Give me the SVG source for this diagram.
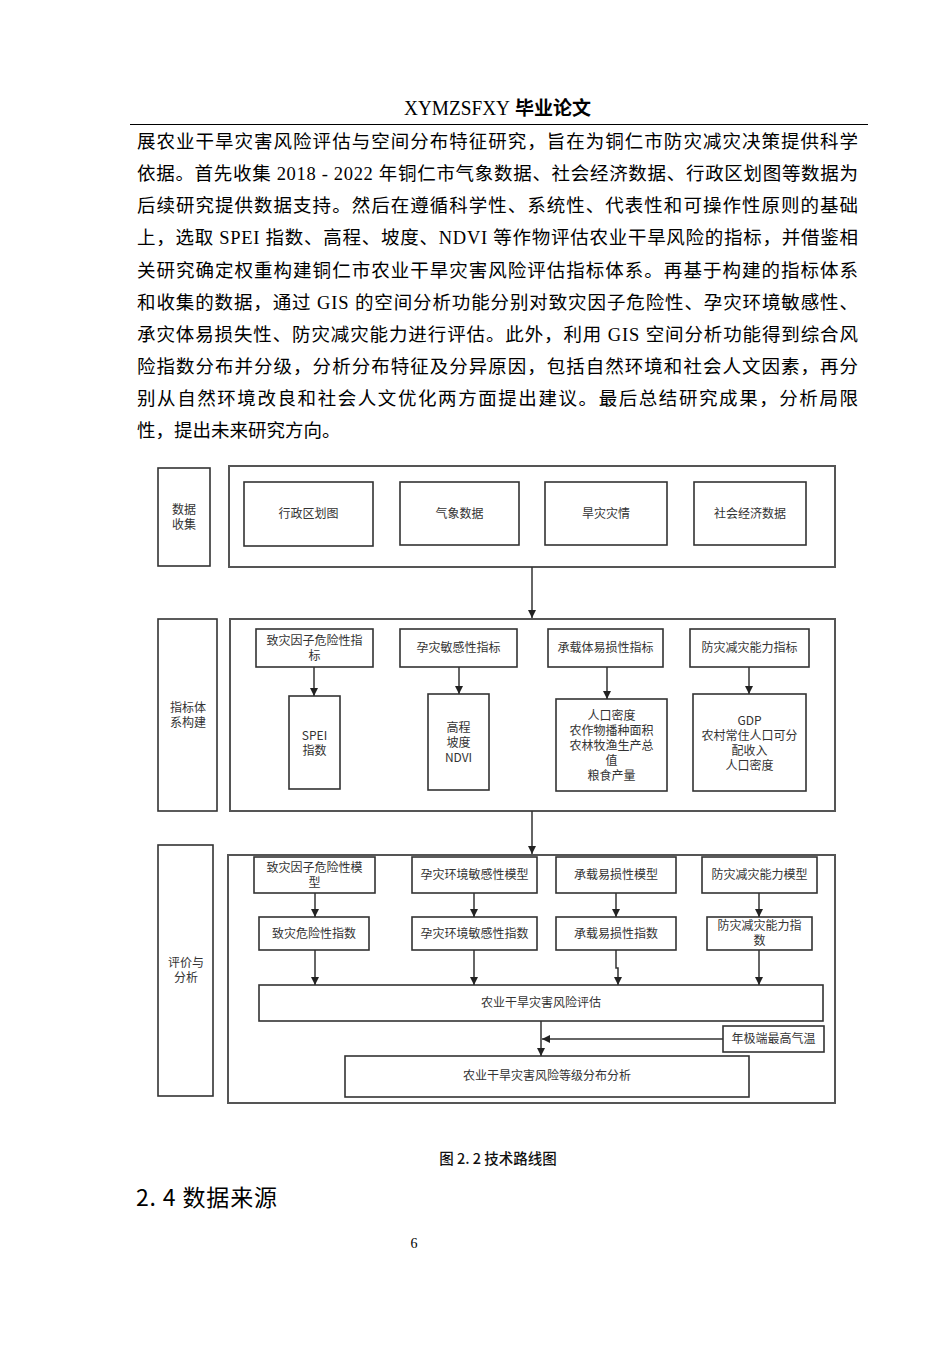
<svg xmlns="http://www.w3.org/2000/svg" width="950" height="1346" viewBox="0 0 950 1346">
<style>
.body{font-family:"Liberation Serif","Noto Sans CJK SC",serif;font-size:18.5px;fill:#000}
.t{font-family:"Noto Sans CJK SC","Liberation Sans",sans-serif;font-size:12px;fill:#333;text-anchor:middle}
.outer{fill:none;stroke:#555;stroke-width:2}
.box{fill:#fff;stroke:#333;stroke-width:1.6}
.conn{fill:none;stroke:#333;stroke-width:1.5;marker-end:url(#ah)}
</style>
<defs>
<marker id="ah" viewBox="0 0 10 10" refX="10" refY="5" markerWidth="9" markerHeight="8" markerUnits="userSpaceOnUse" orient="auto">
<path d="M0,0 L10,5 L0,10 Z" fill="#222"/>
</marker>
</defs>
<rect width="950" height="1346" fill="#fff"/>

<g id="header">
<text x="404" y="115" font-family="Liberation Serif,serif" font-size="21" textLength="106" lengthAdjust="spacingAndGlyphs">XYMZSFXY</text>
<text x="515" y="115" font-family="Noto Sans CJK SC,sans-serif" font-size="19" font-weight="bold">毕业论文</text>
<line x1="130" y1="124.5" x2="868" y2="124.5" stroke="#000" stroke-width="1"/>
</g>

<g id="paragraph" class="body">
<text x="137" y="148" textLength="721" lengthAdjust="spacing">展农业干旱灾害风险评估与空间分布特征研究，旨在为铜仁市防灾减灾决策提供科学</text>
<text x="137" y="180" textLength="721" lengthAdjust="spacing">依据。首先收集 2018 - 2022 年铜仁市气象数据、社会经济数据、行政区划图等数据为</text>
<text x="137" y="212" textLength="721" lengthAdjust="spacing">后续研究提供数据支持。然后在遵循科学性、系统性、代表性和可操作性原则的基础</text>
<text x="137" y="244" textLength="721" lengthAdjust="spacing">上，选取 SPEI 指数、高程、坡度、NDVI 等作物评估农业干旱风险的指标，并借鉴相</text>
<text x="137" y="277" textLength="721" lengthAdjust="spacing">关研究确定权重构建铜仁市农业干旱灾害风险评估指标体系。再基于构建的指标体系</text>
<text x="137" y="309" textLength="721" lengthAdjust="spacing">和收集的数据，通过 GIS 的空间分析功能分别对致灾因子危险性、孕灾环境敏感性、</text>
<text x="137" y="341" textLength="721" lengthAdjust="spacing">承灾体易损失性、防灾减灾能力进行评估。此外，利用 GIS 空间分析功能得到综合风</text>
<text x="137" y="373" textLength="721" lengthAdjust="spacing">险指数分布并分级，分析分布特征及分异原因，包括自然环境和社会人文因素，再分</text>
<text x="137" y="405" textLength="721" lengthAdjust="spacing">别从自然环境改良和社会人文优化两方面提出建议。最后总结研究成果，分析局限</text>
<text x="137" y="437">性，提出未来研究方向。</text>
</g>

<!-- section 1 -->
<g id="lbl-collect"><rect class="box" x="158" y="468" width="52" height="98"/><text class="t" x="184" y="514">数据</text><text class="t" x="184" y="529">收集</text></g>
<g id="grp-collect"><rect class="outer" x="229" y="466" width="606" height="101"/></g>
<g id="n-xzqh"><rect class="box" x="244" y="482" width="129" height="64"/><text class="t" x="308.5" y="518">行政区划图</text></g>
<g id="n-qxsj"><rect class="box" x="400" y="482" width="119" height="63"/><text class="t" x="459.5" y="518">气象数据</text></g>
<g id="n-hzzq"><rect class="box" x="545" y="482" width="122" height="63"/><text class="t" x="606" y="518">旱灾灾情</text></g>
<g id="n-shjj"><rect class="box" x="694" y="482" width="112" height="63"/><text class="t" x="750" y="518">社会经济数据</text></g>

<!-- section 2 -->
<g id="lbl-index"><rect class="box" x="158" y="619" width="59" height="192"/><text class="t" x="188" y="712">指标体</text><text class="t" x="188" y="727">系构建</text></g>
<g id="grp-index"><rect class="outer" x="230" y="619" width="605" height="192"/></g>
<g id="n-zz"><rect class="box" x="256" y="629" width="117" height="38"/><text class="t" x="314.5" y="645">致灾因子危险性指</text><text class="t" x="314.5" y="660">标</text></g>
<g id="n-yz"><rect class="box" x="400" y="629" width="117" height="38"/><text class="t" x="458.5" y="652">孕灾敏感性指标</text></g>
<g id="n-cz"><rect class="box" x="548" y="629" width="115" height="38"/><text class="t" x="605.5" y="652">承载体易损性指标</text></g>
<g id="n-fz"><rect class="box" x="690" y="629" width="119" height="38"/><text class="t" x="749.5" y="652">防灾减灾能力指标</text></g>
<g id="n-spei"><rect class="box" x="289" y="696" width="51" height="93"/><text class="t" x="314.5" y="740">SPEI</text><text class="t" x="314.5" y="755">指数</text></g>
<g id="n-gc"><rect class="box" x="428" y="694" width="61" height="96"/><text class="t" x="458.5" y="732">高程</text><text class="t" x="458.5" y="747">坡度</text><text class="t" x="458.5" y="762">NDVI</text></g>
<g id="n-rk"><rect class="box" x="556" y="699" width="111" height="92"/><text class="t" x="611.5" y="720">人口密度</text><text class="t" x="611.5" y="735">农作物播种面积</text><text class="t" x="611.5" y="750">农林牧渔生产总</text><text class="t" x="611.5" y="765">值</text><text class="t" x="611.5" y="780">粮食产量</text></g>
<g id="n-gdp"><rect class="box" x="693" y="694" width="113" height="97"/><text class="t" x="749.5" y="725">GDP</text><text class="t" x="749.5" y="740">农村常住人口可分</text><text class="t" x="749.5" y="755">配收入</text><text class="t" x="749.5" y="770">人口密度</text></g>

<!-- section 3 -->
<g id="lbl-eval"><rect class="box" x="158" y="845" width="55" height="251"/><text class="t" x="186" y="967">评价与</text><text class="t" x="186" y="982">分析</text></g>
<g id="grp-eval"><rect class="outer" x="228" y="855" width="607" height="248"/></g>
<g id="m-zz"><rect class="box" x="254" y="857" width="121" height="36"/><text class="t" x="314.5" y="872">致灾因子危险性模</text><text class="t" x="314.5" y="887">型</text></g>
<g id="m-yz"><rect class="box" x="412" y="857" width="125" height="36"/><text class="t" x="474.5" y="879">孕灾环境敏感性模型</text></g>
<g id="m-cz"><rect class="box" x="556" y="857" width="120" height="36"/><text class="t" x="616" y="879">承载易损性模型</text></g>
<g id="m-fz"><rect class="box" x="702" y="857" width="115" height="36"/><text class="t" x="759.5" y="879">防灾减灾能力模型</text></g>
<g id="i-zz"><rect class="box" x="259" y="917" width="110" height="33"/><text class="t" x="314" y="938">致灾危险性指数</text></g>
<g id="i-yz"><rect class="box" x="412" y="917" width="125" height="33"/><text class="t" x="474.5" y="938">孕灾环境敏感性指数</text></g>
<g id="i-cz"><rect class="box" x="556" y="917" width="120" height="33"/><text class="t" x="616" y="938">承载易损性指数</text></g>
<g id="i-fz"><rect class="box" x="707" y="917" width="105" height="33"/><text class="t" x="759.5" y="930">防灾减灾能力指</text><text class="t" x="759.5" y="945">数</text></g>
<g id="n-risk"><rect class="box" x="259" y="985" width="564" height="36"/><text class="t" x="541" y="1007">农业干旱灾害风险评估</text></g>
<g id="n-temp"><rect class="box" x="723" y="1026" width="101" height="26"/><text class="t" x="773.5" y="1043">年极端最高气温</text></g>
<g id="n-level"><rect class="box" x="345" y="1056" width="404" height="41"/><text class="t" x="547" y="1080">农业干旱灾害风险等级分布分析</text></g>

<g id="connectors">
<path class="conn" d="M532,567 V618"/>
<path class="conn" d="M532,811 V854"/>
<path class="conn" d="M314,667 V696"/>
<path class="conn" d="M459,667 V694"/>
<path class="conn" d="M607,667 V699"/>
<path class="conn" d="M749,667 V694"/>
<path class="conn" d="M315,893 V917"/>
<path class="conn" d="M474,893 V917"/>
<path class="conn" d="M616,893 V917"/>
<path class="conn" d="M759,893 V917"/>
<path class="conn" d="M315,950 V985"/>
<path class="conn" d="M474,950 V985"/>
<path class="conn" d="M616,950 V968 H618 V985"/>
<path class="conn" d="M759,950 V985"/>
<path class="conn" d="M541,1021 V1056"/>
<path class="conn" d="M723,1039 H542"/>
</g>

<g id="caption">
<text x="498" y="1164" text-anchor="middle" font-family="Noto Sans CJK SC,sans-serif" font-size="14.5" font-weight="500" fill="#111">图 2. 2 技术路线图</text>
<text x="136" y="1206" font-family="Noto Sans CJK SC,sans-serif" font-size="23" fill="#000" textLength="141" lengthAdjust="spacing">2. 4 数据来源</text>
<text x="414" y="1248" text-anchor="middle" font-family="Liberation Serif,serif" font-size="14" fill="#000">6</text>
</g>
</svg>
